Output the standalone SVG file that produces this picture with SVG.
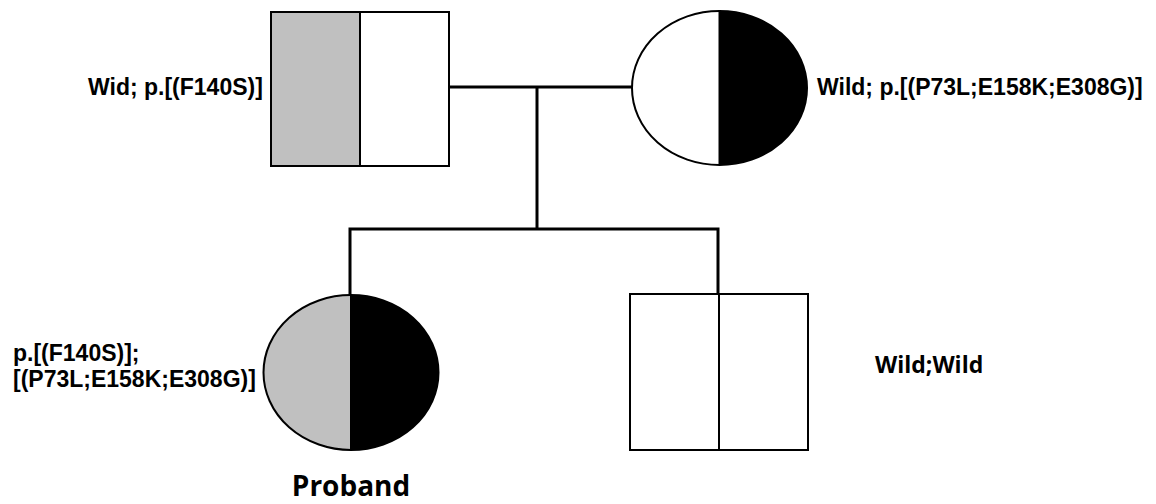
<svg xmlns="http://www.w3.org/2000/svg" width="1156" height="504" viewBox="0 0 1156 504">
<style>
.outline{fill:none;stroke:#000;stroke-width:2}
.conn{fill:none;stroke:#000;stroke-width:3}
.gray{fill:#c0c0c0}
.black{fill:#000}
.white{fill:#fff}
.lbl{font-family:"Liberation Sans",Arial,sans-serif;font-weight:bold;font-size:23px;fill:#000}
.lbl2{font-family:"Open Sans","Noto Sans",sans-serif;font-weight:bold;fill:#000}
</style>
<rect width="1156" height="504" fill="#fff"/>
<g id="connectors">
<line class="conn" x1="449" y1="87" x2="633" y2="87"/>
<line class="conn" x1="537" y1="87" x2="537" y2="229"/>
<polyline class="conn" points="350,295 350,229 718,229 718,294"/>
</g>
<g id="father">
<rect class="gray" x="271" y="12" width="89" height="154"/>
<rect class="white" x="360" y="12" width="89" height="154"/>
<rect class="outline" x="271" y="12" width="178" height="154"/>
<line class="outline" x1="360" y1="12" x2="360" y2="166"/>
<text class="lbl" x="88" y="95">Wid; p.[(F140S)]</text>
</g>
<g id="mother">
<ellipse class="white" cx="719.5" cy="88" rx="87.5" ry="77"/>
<path class="black" d="M719.5,11 A87.5,77 0 0 1 719.5,165 Z"/>
<ellipse class="outline" cx="719.5" cy="88" rx="87.5" ry="77"/>
<line class="outline" x1="719.5" y1="11" x2="719.5" y2="165"/>
<text class="lbl" x="817" y="95">Wild; p.[(P73L;E158K;E308G)]</text>
</g>
<g id="proband">
<path class="gray" d="M351,295 A87.5,77.5 0 0 0 351,450 Z"/>
<path class="black" d="M351,295 A87.5,77.5 0 0 1 351,450 Z"/>
<ellipse class="outline" cx="351" cy="372.5" rx="87.5" ry="77.5"/>
<line class="outline" x1="351" y1="295" x2="351" y2="450"/>
<text class="lbl" x="13" y="361">p.[(F140S)];</text>
<text class="lbl" x="13" y="387">[(P73L;E158K;E308G)]</text>
<text class="lbl2" x="351" y="496" font-size="28" text-anchor="middle">Proband</text>
</g>
<g id="brother">
<rect class="white" x="630" y="294" width="178" height="156"/>
<rect class="outline" x="630" y="294" width="178" height="156"/>
<line class="outline" x1="719" y1="294" x2="719" y2="450"/>
<text class="lbl2" x="875" y="373" font-size="23">Wild;Wild</text>
</g>
</svg>
